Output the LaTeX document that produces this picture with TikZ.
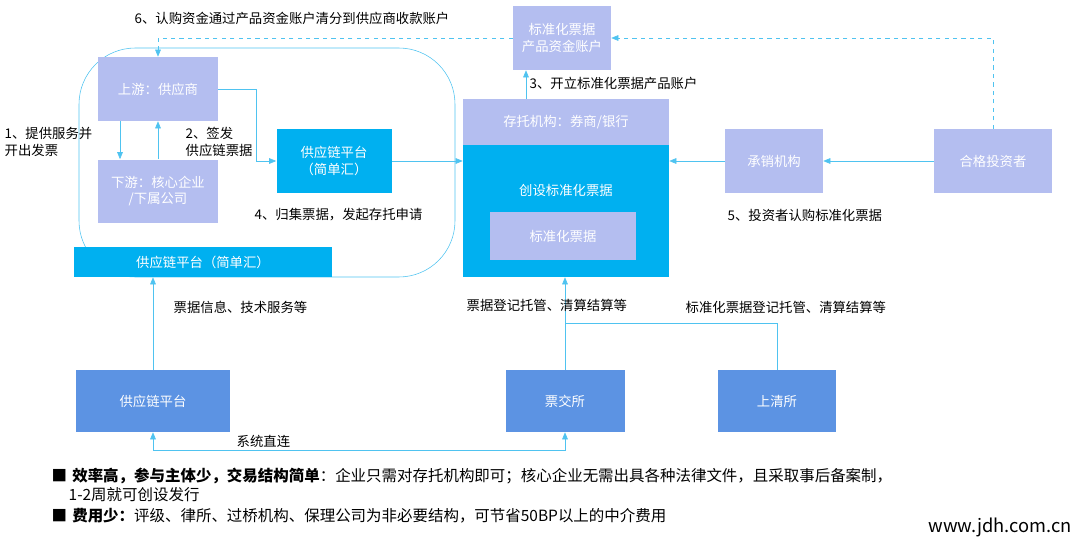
\documentclass[tikz,border=0pt]{standalone}
\usepackage{fontspec}
\setmainfont{Noto Sans CJK SC}
\usetikzlibrary{arrows.meta, positioning}
\definecolor{lav}{HTML}{B4BEF0}
\definecolor{cyn}{HTML}{00B0F0}
\definecolor{blu}{HTML}{5C93E3}
\definecolor{lnk}{HTML}{4FC3F0}
\tikzset{
  lbox/.style = {rectangle, fill=lav, text=white, align=center, inner sep=0pt, font=\fontsize{9.5}{12}\selectfont},
  cbox/.style = {rectangle, fill=cyn, text=white, align=center, inner sep=0pt, font=\fontsize{9.5}{12}\selectfont},
  bbox/.style = {rectangle, fill=blu, text=white, align=center, inner sep=0pt, font=\fontsize{9.5}{12}\selectfont},
  lab/.style = {font=\fontsize{9.5}{12}\selectfont, align=left, inner sep=1pt},
  link/.style = {draw=lnk, -{Triangle[length=5pt,width=4pt]}},
}
\begin{document}
\begin{tikzpicture}[x=0.025cm, y=-0.025cm]
\useasboundingbox (0,0) rectangle (1080,540);
% grouping frame
\draw[lnk, rounded corners=40] (79,48) rectangle (455,277);
\node (up) [lbox, minimum width=120*0.025cm, minimum height=64*0.025cm] at (158,89) {上游：供应商};
\node (down) [lbox, minimum width=120*0.025cm, minimum height=63*0.025cm] at (158,191) {下游：核心企业\\/下属公司};
\node (mid) [cbox, minimum width=115*0.025cm, minimum height=64*0.025cm] at (334,161) {供应链平台\\（简单汇）};
\node (bar) [cbox, minimum width=258*0.025cm, minimum height=30*0.025cm] at (203,262) {供应链平台（简单汇）};
\node (big) [cbox, minimum width=206*0.025cm, minimum height=132*0.025cm] at (566,211) {};
\node (cust) [lbox, minimum width=206*0.025cm, minimum height=46*0.025cm] at (566,122) {存托机构：券商/银行};
\node at (566,190) [text=white, font=\fontsize{9.5}{12}\selectfont] {创设标准化票据};
\node (std) [lbox, minimum width=146*0.025cm, minimum height=48*0.025cm] at (563,236) {标准化票据};
\node (acct) [lbox, minimum width=98*0.025cm, minimum height=64*0.025cm] at (562,38) {标准化票据\\产品资金账户};
\node (under) [lbox, minimum width=98*0.025cm, minimum height=64*0.025cm] at (774,161) {承销机构};
\node (inv) [lbox, minimum width=118*0.025cm, minimum height=64*0.025cm] at (993,161) {合格投资者};
\node (scf) [bbox, minimum width=154*0.025cm, minimum height=62*0.025cm] at (153,401) {供应链平台};
\node (sce) [bbox, minimum width=119*0.025cm, minimum height=62*0.025cm] at (565,401) {票交所};
\node (shc) [bbox, minimum width=118*0.025cm, minimum height=62*0.025cm] at (777,401) {上清所};
% connectors
\draw[link] (up.east) -- (256,89) |- (mid.west);
\draw[link] (mid.east) -- (mid.east -| big.west);
\draw[link] (up.south -| 120,0) -- (down.north -| 120,0);
\draw[link] (down.north) -- (up.south);
\draw[link] (under.west) -- (under.west -| big.east);
\draw[link] (inv.west) -- (under.east);
\draw[link] (cust.north -| 526,0) -- (acct.south -| 526,0);
\draw[link, dashed] (inv.north) |- (acct.east);
\draw[link, dashed] (acct.west) -| (up.north);
\draw[link] (scf.north) -- (bar.south -| scf.north);
\draw[link] (sce.north) -- (big.south -| sce.north);
\draw[draw=lnk] (shc.north) |- (565,323);
\draw[draw=lnk, {Triangle[length=5pt,width=4pt]}-{Triangle[length=5pt,width=4pt]}] (scf.south) -- (153,450) -| (sce.south);
% labels
\node[lab] at (292,18) {6、认购资金通过产品资金账户清分到供应商收款账户};
\node[lab, anchor=west] at (3,142) {1、提供服务并\\开出发票};
\node[lab, anchor=west] at (184,142) {2、签发\\供应链票据};
\node[lab, anchor=west] at (253,215) {4、归集票据，发起存托申请};
\node[lab, anchor=west] at (528,83) {3、开立标准化票据产品账户};
\node[lab, anchor=west] at (726,215) {5、投资者认购标准化票据};
\node[lab, anchor=west] at (172,307) {票据信息、技术服务等};
\node[lab, anchor=west] at (465,305) {票据登记托管、清算结算等};
\node[lab, anchor=west] at (684,307) {标准化票据登记托管、清算结算等};
\node[lab, anchor=west] at (235,441) {系统直连};
\node[lab, anchor=north west, text width=25.5cm, font=\fontsize{11}{14}\selectfont] at (50,466) {%
  ■\ \textbf{效率高，参与主体少，交易结构简单}：企业只需对存托机构即可；核心企业无需出具各种法律文件，且采取事后备案制，\\
  \hspace*{1.1em}1-2周就可创设发行\\[1pt]
  ■\ \textbf{费用少：}评级、律所、过桥机构、保理公司为非必要结构，可节省50BP以上的中介费用};
\node[anchor=east, inner sep=0pt, font=\fontsize{13}{15}\selectfont] at (1072,527) {www.jdh.com.cn};
\end{tikzpicture}
\end{document}
